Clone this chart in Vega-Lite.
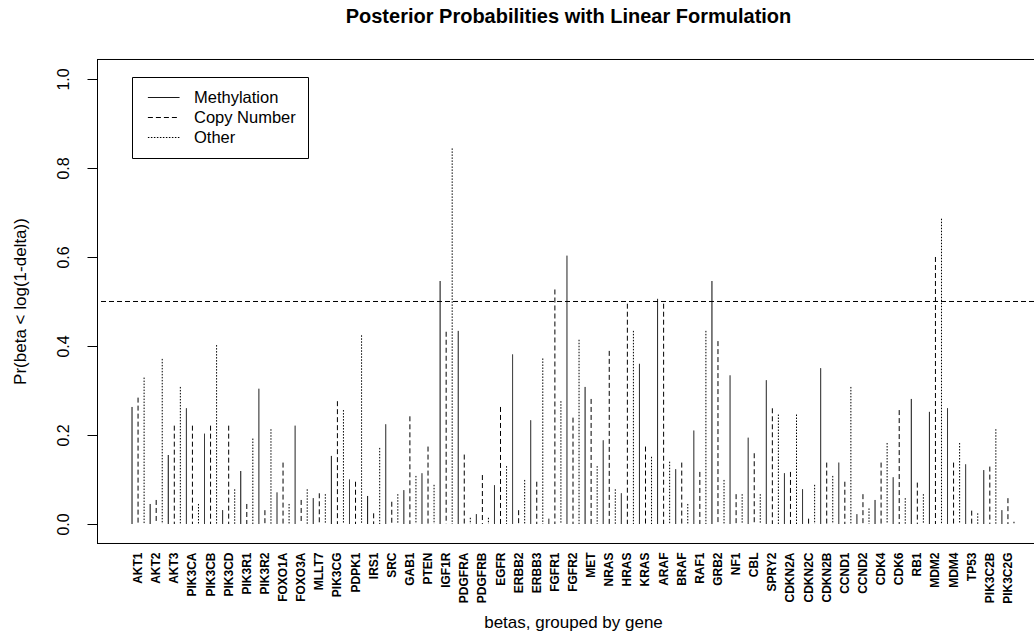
{
  "$schema": "https://vega.github.io/schema/vega-lite/v6.json",
  "width": 937,
  "height": 484,
  "autosize": {"type": "none"},
  "padding": {"left": 97, "top": 59, "right": 0, "bottom": 94},
  "background": "white",
  "config": {
    "view": {"stroke": null},
    "font": "Liberation Sans",
    "axis": {"domainColor": "black", "tickColor": "black", "labelColor": "black", "titleColor": "black", "grid": false}
  },
  "title": {
    "text": "Posterior Probabilities with Linear Formulation",
    "font": "Liberation Sans",
    "fontSize": 20,
    "fontWeight": "bold",
    "color": "black",
    "anchor": "middle",
    "baseline": "alphabetic",
    "offset": 16,
    "dx": 3
  },
  "datasets": {
    "frame": [{"edge": "top", "value": 1.0438}, {"edge": "bottom", "value": -0.0438}],
    "threshold": [{"value": 0.5}]
  },
  "data": {
    "values": [
      {"gene": "AKT1", "type": "Methylation", "value": 0.263}, {"gene": "AKT1", "type": "Copy Number", "value": 0.284}, {"gene": "AKT1", "type": "Other", "value": 0.329},
      {"gene": "AKT2", "type": "Methylation", "value": 0.045}, {"gene": "AKT2", "type": "Copy Number", "value": 0.054}, {"gene": "AKT2", "type": "Other", "value": 0.371},
      {"gene": "AKT3", "type": "Methylation", "value": 0.155}, {"gene": "AKT3", "type": "Copy Number", "value": 0.221}, {"gene": "AKT3", "type": "Other", "value": 0.308},
      {"gene": "PIK3CA", "type": "Methylation", "value": 0.260}, {"gene": "PIK3CA", "type": "Copy Number", "value": 0.221}, {"gene": "PIK3CA", "type": "Other", "value": 0.045},
      {"gene": "PIK3CB", "type": "Methylation", "value": 0.203}, {"gene": "PIK3CB", "type": "Copy Number", "value": 0.221}, {"gene": "PIK3CB", "type": "Other", "value": 0.402},
      {"gene": "PIK3CD", "type": "Methylation", "value": 0.031}, {"gene": "PIK3CD", "type": "Copy Number", "value": 0.221}, {"gene": "PIK3CD", "type": "Other", "value": 0.078},
      {"gene": "PIK3R1", "type": "Methylation", "value": 0.119}, {"gene": "PIK3R1", "type": "Copy Number", "value": 0.045}, {"gene": "PIK3R1", "type": "Other", "value": 0.192},
      {"gene": "PIK3R2", "type": "Methylation", "value": 0.304}, {"gene": "PIK3R2", "type": "Copy Number", "value": 0.031}, {"gene": "PIK3R2", "type": "Other", "value": 0.213},
      {"gene": "FOXO1A", "type": "Methylation", "value": 0.071}, {"gene": "FOXO1A", "type": "Copy Number", "value": 0.138}, {"gene": "FOXO1A", "type": "Other", "value": 0.045},
      {"gene": "FOXO3A", "type": "Methylation", "value": 0.221}, {"gene": "FOXO3A", "type": "Copy Number", "value": 0.054}, {"gene": "FOXO3A", "type": "Other", "value": 0.078},
      {"gene": "MLLT7", "type": "Methylation", "value": 0.058}, {"gene": "MLLT7", "type": "Copy Number", "value": 0.069}, {"gene": "MLLT7", "type": "Other", "value": 0.067},
      {"gene": "PIK3CG", "type": "Methylation", "value": 0.153}, {"gene": "PIK3CG", "type": "Copy Number", "value": 0.276}, {"gene": "PIK3CG", "type": "Other", "value": 0.256},
      {"gene": "PDPK1", "type": "Methylation", "value": 0.100}, {"gene": "PDPK1", "type": "Copy Number", "value": 0.095}, {"gene": "PDPK1", "type": "Other", "value": 0.424},
      {"gene": "IRS1", "type": "Methylation", "value": 0.063}, {"gene": "IRS1", "type": "Copy Number", "value": 0.024}, {"gene": "IRS1", "type": "Other", "value": 0.171},
      {"gene": "SRC", "type": "Methylation", "value": 0.224}, {"gene": "SRC", "type": "Copy Number", "value": 0.050}, {"gene": "SRC", "type": "Other", "value": 0.067},
      {"gene": "GAB1", "type": "Methylation", "value": 0.076}, {"gene": "GAB1", "type": "Copy Number", "value": 0.242}, {"gene": "GAB1", "type": "Other", "value": 0.108},
      {"gene": "PTEN", "type": "Methylation", "value": 0.114}, {"gene": "PTEN", "type": "Copy Number", "value": 0.174}, {"gene": "PTEN", "type": "Other", "value": 0.088},
      {"gene": "IGF1R", "type": "Methylation", "value": 0.546}, {"gene": "IGF1R", "type": "Copy Number", "value": 0.432}, {"gene": "IGF1R", "type": "Other", "value": 0.844},
      {"gene": "PDGFRA", "type": "Methylation", "value": 0.434}, {"gene": "PDGFRA", "type": "Copy Number", "value": 0.156}, {"gene": "PDGFRA", "type": "Other", "value": 0.014},
      {"gene": "PDGFRB", "type": "Methylation", "value": 0.022}, {"gene": "PDGFRB", "type": "Copy Number", "value": 0.110}, {"gene": "PDGFRB", "type": "Other", "value": 0.014},
      {"gene": "EGFR", "type": "Methylation", "value": 0.087}, {"gene": "EGFR", "type": "Copy Number", "value": 0.263}, {"gene": "EGFR", "type": "Other", "value": 0.130},
      {"gene": "ERBB2", "type": "Methylation", "value": 0.381}, {"gene": "ERBB2", "type": "Copy Number", "value": 0.031}, {"gene": "ERBB2", "type": "Other", "value": 0.099},
      {"gene": "ERBB3", "type": "Methylation", "value": 0.233}, {"gene": "ERBB3", "type": "Copy Number", "value": 0.095}, {"gene": "ERBB3", "type": "Other", "value": 0.372},
      {"gene": "FGFR1", "type": "Methylation", "value": 0.012}, {"gene": "FGFR1", "type": "Copy Number", "value": 0.527}, {"gene": "FGFR1", "type": "Other", "value": 0.276},
      {"gene": "FGFR2", "type": "Methylation", "value": 0.603}, {"gene": "FGFR2", "type": "Copy Number", "value": 0.239}, {"gene": "FGFR2", "type": "Other", "value": 0.414},
      {"gene": "MET", "type": "Methylation", "value": 0.308}, {"gene": "MET", "type": "Copy Number", "value": 0.281}, {"gene": "MET", "type": "Other", "value": 0.130},
      {"gene": "NRAS", "type": "Methylation", "value": 0.188}, {"gene": "NRAS", "type": "Copy Number", "value": 0.389}, {"gene": "NRAS", "type": "Other", "value": 0.078},
      {"gene": "HRAS", "type": "Methylation", "value": 0.069}, {"gene": "HRAS", "type": "Copy Number", "value": 0.495}, {"gene": "HRAS", "type": "Other", "value": 0.434},
      {"gene": "KRAS", "type": "Methylation", "value": 0.360}, {"gene": "KRAS", "type": "Copy Number", "value": 0.174}, {"gene": "KRAS", "type": "Other", "value": 0.151},
      {"gene": "ARAF", "type": "Methylation", "value": 0.506}, {"gene": "ARAF", "type": "Copy Number", "value": 0.495}, {"gene": "ARAF", "type": "Other", "value": 0.140},
      {"gene": "BRAF", "type": "Methylation", "value": 0.123}, {"gene": "BRAF", "type": "Copy Number", "value": 0.138}, {"gene": "BRAF", "type": "Other", "value": 0.045},
      {"gene": "RAF1", "type": "Methylation", "value": 0.210}, {"gene": "RAF1", "type": "Copy Number", "value": 0.117}, {"gene": "RAF1", "type": "Other", "value": 0.434},
      {"gene": "GRB2", "type": "Methylation", "value": 0.546}, {"gene": "GRB2", "type": "Copy Number", "value": 0.411}, {"gene": "GRB2", "type": "Other", "value": 0.099},
      {"gene": "NF1", "type": "Methylation", "value": 0.334}, {"gene": "NF1", "type": "Copy Number", "value": 0.067}, {"gene": "NF1", "type": "Other", "value": 0.067},
      {"gene": "CBL", "type": "Methylation", "value": 0.194}, {"gene": "CBL", "type": "Copy Number", "value": 0.159}, {"gene": "CBL", "type": "Other", "value": 0.067},
      {"gene": "SPRY2", "type": "Methylation", "value": 0.323}, {"gene": "SPRY2", "type": "Copy Number", "value": 0.260}, {"gene": "SPRY2", "type": "Other", "value": 0.246},
      {"gene": "CDKN2A", "type": "Methylation", "value": 0.114}, {"gene": "CDKN2A", "type": "Copy Number", "value": 0.117}, {"gene": "CDKN2A", "type": "Other", "value": 0.246},
      {"gene": "CDKN2C", "type": "Methylation", "value": 0.078}, {"gene": "CDKN2C", "type": "Copy Number", "value": 0.012}, {"gene": "CDKN2C", "type": "Other", "value": 0.088},
      {"gene": "CDKN2B", "type": "Methylation", "value": 0.350}, {"gene": "CDKN2B", "type": "Copy Number", "value": 0.138}, {"gene": "CDKN2B", "type": "Other", "value": 0.108},
      {"gene": "CCND1", "type": "Methylation", "value": 0.138}, {"gene": "CCND1", "type": "Copy Number", "value": 0.095}, {"gene": "CCND1", "type": "Other", "value": 0.308},
      {"gene": "CCND2", "type": "Methylation", "value": 0.022}, {"gene": "CCND2", "type": "Copy Number", "value": 0.067}, {"gene": "CCND2", "type": "Other", "value": 0.035},
      {"gene": "CDK4", "type": "Methylation", "value": 0.054}, {"gene": "CDK4", "type": "Copy Number", "value": 0.138}, {"gene": "CDK4", "type": "Other", "value": 0.182},
      {"gene": "CDK6", "type": "Methylation", "value": 0.105}, {"gene": "CDK6", "type": "Copy Number", "value": 0.256}, {"gene": "CDK6", "type": "Other", "value": 0.058},
      {"gene": "RB1", "type": "Methylation", "value": 0.281}, {"gene": "RB1", "type": "Copy Number", "value": 0.093}, {"gene": "RB1", "type": "Other", "value": 0.067},
      {"gene": "MDM2", "type": "Methylation", "value": 0.252}, {"gene": "MDM2", "type": "Copy Number", "value": 0.600}, {"gene": "MDM2", "type": "Other", "value": 0.686},
      {"gene": "MDM4", "type": "Methylation", "value": 0.260}, {"gene": "MDM4", "type": "Copy Number", "value": 0.138}, {"gene": "MDM4", "type": "Other", "value": 0.182},
      {"gene": "TP53", "type": "Methylation", "value": 0.134}, {"gene": "TP53", "type": "Copy Number", "value": 0.030}, {"gene": "TP53", "type": "Other", "value": 0.024},
      {"gene": "PIK3C2B", "type": "Methylation", "value": 0.121}, {"gene": "PIK3C2B", "type": "Copy Number", "value": 0.129}, {"gene": "PIK3C2B", "type": "Other", "value": 0.213},
      {"gene": "PIK3C2G", "type": "Methylation", "value": 0.031}, {"gene": "PIK3C2G", "type": "Copy Number", "value": 0.058}, {"gene": "PIK3C2G", "type": "Other", "value": 0.005}
    ]
  },
  "layer": [
    {
      "mark": {"type": "rule", "color": "black"},
      "encoding": {
        "x": {
          "field": "gene", "type": "nominal", "sort": null,
          "scale": {"type": "band", "paddingInner": 0, "paddingOuter": 0, "range": [32, 920]},
          "axis": {
            "orient": "bottom", "title": "betas, grouped by gene",
            "titleFontSize": 17, "titleFontWeight": "normal", "titleY": 79, "titleBaseline": "middle",
            "labelAngle": -90, "labelFontSize": 12, "labelFontWeight": "bold", "labelPadding": 9,
            "labelOverlap": false, "labelFlush": false, "ticks": false, "domain": false
          }
        },
        "xOffset": {
          "field": "type", "type": "nominal",
          "scale": {"type": "band", "domain": ["Methylation", "Copy Number", "Other"], "paddingInner": 0, "paddingOuter": 0}
        },
        "y": {
          "field": "value", "type": "quantitative",
          "scale": {"domain": [-0.0427, 1.0449], "nice": false, "zero": false},
          "axis": {
            "title": "Pr(beta < log(1-delta))", "titleFontSize": 17, "titleFontWeight": "normal",
            "titleX": -77, "titleY": 242, "titleAngle": -90, "titleAlign": "center", "titleBaseline": "middle",
            "values": [0, 0.2, 0.4, 0.6, 0.8, 1.0], "format": ".1f",
            "labelAngle": -90, "labelAlign": "center", "labelBaseline": "middle",
            "labelFontSize": 16, "tickSize": 10, "labelPadding": 24, "domain": true
          }
        },
        "y2": {"datum": 0},
        "strokeWidth": {
          "field": "type", "type": "nominal",
          "scale": {"domain": ["Methylation", "Copy Number", "Other"], "range": [1, 1, 1.35]},
          "legend": null
        },
        "strokeDash": {
          "field": "type", "type": "nominal",
          "scale": {"domain": ["Methylation", "Copy Number", "Other"], "range": [[1, 0], [5, 3], [1.5, 1.5]]},
          "legend": {
            "title": null, "orient": "none", "legendX": 35, "legendY": 18,
            "strokeColor": "black", "padding": 12,
            "symbolType": "M-0.575,0H3.375", "symbolSize": 256,
            "symbolStrokeColor": "black", "symbolFillColor": "transparent", "symbolStrokeWidth": 1,
            "labelFontSize": 16.5, "labelColor": "black", "labelOffset": 33, "rowPadding": 3
          }
        }
      }
    },
    {
      "data": {"name": "threshold"},
      "mark": {"type": "rule", "color": "black", "strokeWidth": 1, "strokeDash": [5, 3]},
      "encoding": {"y": {"field": "value", "type": "quantitative"}}
    },
    {
      "data": {"name": "frame"},
      "mark": {"type": "rule", "color": "black", "strokeWidth": 1},
      "encoding": {"y": {"field": "value", "type": "quantitative"}}
    }
  ]
}
